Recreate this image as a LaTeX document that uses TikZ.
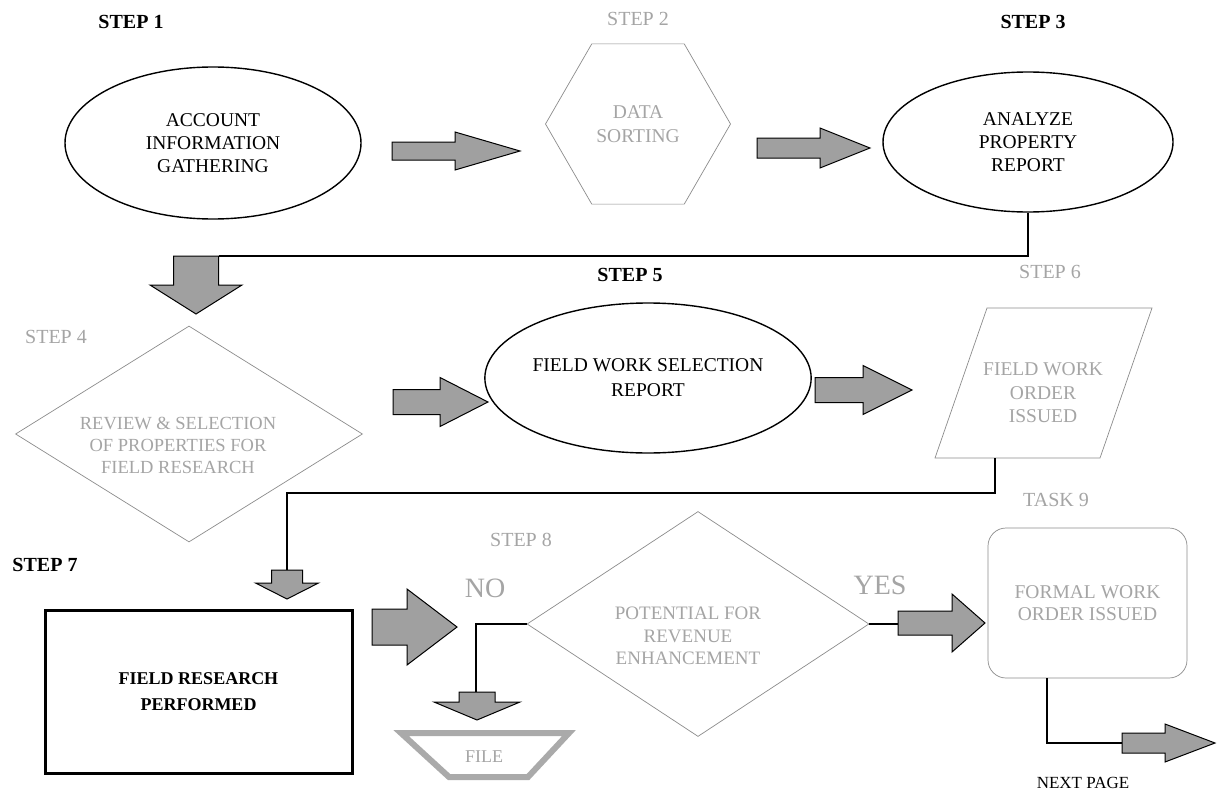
\documentclass[tikz,border=0pt]{standalone}
\usepackage{fontspec}
\setmainfont{Liberation Serif}
\usetikzlibrary{shapes.geometric}
\definecolor{ghost}{RGB}{165,165,165}
\definecolor{ghostline}{RGB}{140,140,140}
\definecolor{arrowfill}{RGB}{160,160,160}
\definecolor{filegray}{RGB}{170,170,170}
\newcommand{\RArr}[6]{\draw[blockarrow] (#1,#4-#5) -- (#2,#4-#5) -- (#2,#4-#6) -- (#3,#4) -- (#2,#4+#6) -- (#2,#4+#5) -- (#1,#4+#5) -- cycle;}
\newcommand{\DArr}[6]{\draw[blockarrow] (#1-#5,#2) -- (#1+#5,#2) -- (#1+#5,#3) -- (#1+#6,#3) -- (#1,#4) -- (#1-#6,#3) -- (#1-#5,#3) -- cycle;}
\begin{document}
\begin{tikzpicture}[x=1pt,y=-1pt,
  blockarrow/.style={draw=black, line width=1pt, fill=arrowfill, line join=miter},
  conn/.style={draw=black, line width=1.1pt},
  mainshape/.style={draw=black, line width=1.4pt},
  ghostshape/.style={draw=ghostline, line width=0.7pt},
  maintxt/.style={font=\fontsize{19.5}{23}\selectfont, align=center, text=black},
  ghosttxt/.style={font=\fontsize{19.5}{23.5}\selectfont, align=center, text=ghost},
  steplbl/.style={font=\fontsize{20}{24}\selectfont\bfseries},
  ghoststep/.style={font=\fontsize{20}{24}\selectfont, text=ghost},
  yesno/.style={font=\fontsize{28}{32}\selectfont, text=ghost},
]
\useasboundingbox[fill=white] (0,0) rectangle (1217,797);

% ---------- Row 1
\node[steplbl] (s1) at (131,22) {STEP 1};
\node[ellipse, mainshape, maintxt, minimum width=296pt, minimum height=152pt, inner sep=0pt] (e1) at (213,143) {ACCOUNT\\INFORMATION\\GATHERING};
\RArr{392}{455}{520}{151}{9}{19}

\node[ghoststep] (s2) at (638,19) {STEP 2};
\node[regular polygon, regular polygon sides=6, minimum size=185pt, inner sep=0pt, ghostshape, ghosttxt] (h2) at (638,124) {DATA\\SORTING};
\RArr{757}{820}{870}{148}{10}{20}

\node[steplbl] (s3) at (1033,22) {STEP 3};
\node[ellipse, mainshape, maintxt, minimum width=290pt, minimum height=140pt, inner sep=0pt] (e3) at (1028,142) {ANALYZE\\PROPERTY\\REPORT};

% connector 3 -> 4
\coordinate (a4top) at (218.5,256);
\draw[conn] (e3.south) |- (a4top);
\DArr{196}{256}{285}{314}{22.5}{46}

% ---------- Row 2
\node[ghoststep] (s4) at (56,337) {STEP 4};
\node[diamond, ghostshape, minimum width=347pt, minimum height=216pt, inner sep=0pt] (d4) at (189,434) {};
\node[ghosttxt, font=\fontsize{18.5}{22}\selectfont] (d4t) at (178,445) {REVIEW \& SELECTION\\OF PROPERTIES FOR\\FIELD RESEARCH};
\RArr{393}{440}{488}{402}{12.5}{24.5}

\node[steplbl] (s5) at (630,275) {STEP 5};
\node[ellipse, mainshape, maintxt, font=\fontsize{19.5}{25}\selectfont, minimum width=316pt, minimum height=150pt, inner sep=0pt] (e5) at (648,378) {FIELD WORK SELECTION\\REPORT};
\RArr{815}{863}{912}{390}{12.5}{24.5}

\node[ghoststep] (s6) at (1050,272) {STEP 6};
\draw[ghostshape] (987,308) -- (1152,308) -- (1100,458) -- (935,458) -- cycle;
\node[ghosttxt] (p6t) at (1043,393) {FIELD WORK\\ORDER\\ISSUED};
\coordinate (p6b) at (995,458);

% connector 6 -> 7
\coordinate (a7top) at (287,570);
\draw[conn] (p6b) -- (995,493) -| (a7top);
\DArr{287}{570}{583}{599}{15.5}{31.5}

% ---------- Row 3
\node[steplbl] (s7) at (45,565) {STEP 7};
\node[rectangle, draw=black, line width=3pt, font=\fontsize{18}{26}\selectfont\bfseries, align=center, minimum width=307pt, minimum height=163pt] (r7) at (198.5,691.5) {FIELD RESEARCH\\PERFORMED};
\RArr{372}{407}{457}{627}{18}{38}

\node[ghoststep] (s8) at (521,540) {STEP 8};
\node[yesno] (no) at (485,588) {NO};
\node[yesno] (yes) at (880,585) {YES};
\node[diamond, ghostshape, minimum width=342pt, minimum height=225pt, inner sep=0pt] (d8) at (698,624) {};
\node[ghosttxt, font=\fontsize{19}{22.5}\selectfont] (d8t) at (688,636) {POTENTIAL FOR\\REVENUE\\ENHANCEMENT};

% NO branch
\coordinate (afile) at (476,692);
\draw[conn] (d8.west) -| (afile);
\DArr{477}{692}{702}{720}{18}{43}
\draw[line width=6pt, draw=filegray, line join=miter] (401,733) -- (569,733) -- (528,777) -- (449,777) -- cycle;
\node[ghosttxt, font=\fontsize{18}{22}\selectfont] (file) at (484,757) {FILE};

% YES branch
\coordinate (ayes) at (898,624);
\draw[conn] (d8.east) -- (ayes);
\RArr{898}{952}{985}{623}{12}{29}

\node[ghoststep] (t9) at (1056,500) {TASK 9};
\node[rectangle, rounded corners=18pt, ghostshape, ghosttxt, font=\fontsize{19.5}{22}\selectfont, minimum width=199pt, minimum height=150pt] (b9) at (1087.5,603) {FORMAL WORK\\ORDER ISSUED};
\coordinate (b9out) at (1047,678);
\coordinate (anext) at (1122,743);
\draw[conn] (b9out) |- (anext);
\RArr{1122}{1165}{1215}{743}{10}{19}
\node[font=\fontsize{17}{20}\selectfont] (np) at (1083,783) {NEXT PAGE};
\end{tikzpicture}
\end{document}
